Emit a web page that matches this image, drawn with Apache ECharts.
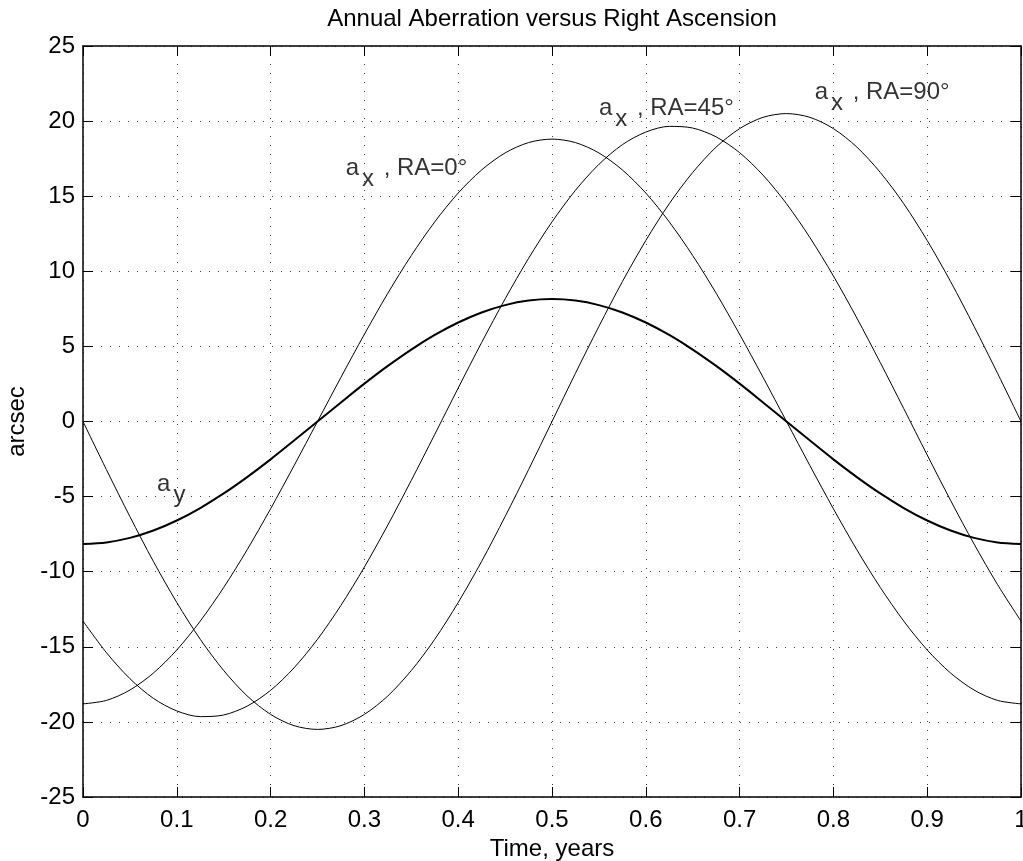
<!DOCTYPE html>
<html>
<head>
<meta charset="utf-8">
<title>Annual Aberration versus Right Ascension</title>
<script src="https://cdn.jsdelivr.net/npm/echarts/dist/echarts.min.js"></script>
<style>
  html, body { margin: 0; padding: 0; background: #fff; }
  #chart-main { width: 1023px; height: 861px; }
</style>
</head>
<body>
<div id="chart-main"></div>
<script>
var times = [0, 0.025, 0.05, 0.075, 0.1, 0.125, 0.15, 0.175, 0.2, 0.225, 0.25,
  0.275, 0.3, 0.325, 0.35, 0.375, 0.4, 0.425, 0.45, 0.475, 0.5,
  0.525, 0.55, 0.575, 0.6, 0.625, 0.65, 0.675, 0.7, 0.725, 0.75,
  0.775, 0.8, 0.825, 0.85, 0.875, 0.9, 0.925, 0.95, 0.975, 1];

// a_y (same for all RA, drawn heavy)
var ay = [-8.15, -8.05, -7.75, -7.26, -6.59, -5.76, -4.79, -3.70, -2.52, -1.27, 0,
  1.27, 2.52, 3.70, 4.79, 5.76, 6.59, 7.26, 7.75, 8.05, 8.15,
  8.05, 7.75, 7.26, 6.59, 5.76, 4.79, 3.70, 2.52, 1.27, 0,
  -1.27, -2.52, -3.70, -4.79, -5.76, -6.59, -7.26, -7.75, -8.05, -8.15];

// a_x, RA=0
var ax0 = [-18.80, -18.57, -17.88, -16.75, -15.21, -13.29, -11.05, -8.54, -5.81, -2.94, 0,
  2.94, 5.81, 8.54, 11.05, 13.29, 15.21, 16.75, 17.88, 18.57, 18.80,
  18.57, 17.88, 16.75, 15.21, 13.29, 11.05, 8.54, 5.81, 2.94, 0,
  -2.94, -5.81, -8.54, -11.05, -13.29, -15.21, -16.75, -17.88, -18.57, -18.80];

// a_x, RA=45
var ax45 = [-13.29, -15.39, -17.12, -18.43, -19.27, -19.65, -19.54, -18.95, -17.90, -16.40, -14.50,
  -12.24, -9.69, -6.89, -3.92, -0.86, 2.23, 5.26, 8.16, 10.86, 13.29,
  15.39, 17.12, 18.43, 19.27, 19.65, 19.54, 18.95, 17.90, 16.40, 14.50,
  12.24, 9.69, 6.89, 3.92, 0.86, -2.23, -5.26, -8.16, -10.86, -13.29];

// a_x, RA=90
var ax90 = [0, -3.21, -6.33, -9.31, -12.05, -14.50, -16.58, -18.27, -19.50, -20.25, -20.50,
  -20.25, -19.50, -18.27, -16.58, -14.50, -12.05, -9.31, -6.33, -3.21, 0,
  3.21, 6.33, 9.31, 12.05, 14.50, 16.58, 18.27, 19.50, 20.25, 20.50,
  20.25, 19.50, 18.27, 16.58, 14.50, 12.05, 9.31, 6.33, 3.21, 0];

// curve annotations: text pieces and where they sit (data coords)
var noteSub = ['x', 'x', 'x', 'y'];
var noteText = [' , RA=0\u00b0', ' , RA=45\u00b0', ' , RA=90\u00b0', ''];
var noteT = [0.280, 0.550, 0.780, 0.079];
var noteV = [16.84, 20.84, 21.91, -4.16];

var FONT = '"Liberation Sans", Arial, Helvetica, sans-serif';

function pairs(xs, ys) {
  return xs.map(function (x, i) { return [x, ys[i]]; });
}

function curve(name, values, width) {
  return {
    name: name,
    type: 'line',
    data: pairs(times, values),
    showSymbol: false,
    smooth: 0.3,
    lineStyle: { color: '#000', width: width },
    z: 3
  };
}

var notes = noteT.map(function (t, i) {
  var txt = '{a|a}{s|' + noteSub[i] + '}';
  if (noteText[i]) txt += '{t|' + noteText[i] + '}';
  return { value: [t, noteV[i]], label: { formatter: txt } };
});

var gridLine = { show: true, lineStyle: { color: '#444', width: 1, type: [1, 8] } };
var tick = { show: true, inside: true, length: 10, lineStyle: { color: '#000', width: 1 } };
var line = { show: true, onZero: false, lineStyle: { color: '#000', width: 1.5 } };
var noteFont = { fontSize: 24, color: '#000', fontFamily: FONT, textBorderWidth: 0 };

var myChart = echarts.init(document.getElementById('chart-main'));

var option = {
  animation: false,
  backgroundColor: '#fff',
  textStyle: { fontFamily: FONT },
  grid: { left: 83, right: 2, top: 46, bottom: 64, containLabel: false, outerBoundsMode: 'none' },
  xAxis: [
    {
      type: 'value', min: 0, max: 1, interval: 0.1,
      name: 'Time, years', nameLocation: 'middle', nameGap: 36,
      nameTextStyle: { fontSize: 24, color: '#000', fontFamily: FONT },
      axisLine: line, axisTick: tick, splitLine: gridLine,
      axisLabel: {
        fontSize: 24, color: '#000', margin: 11, fontFamily: FONT,
        formatter: function (v) { return String(Math.round(v * 10) / 10); }
      }
    },
    {
      type: 'value', min: 0, max: 1, interval: 0.1, position: 'top',
      name: 'Annual Aberration versus Right Ascension', nameLocation: 'middle', nameGap: 15,
      nameTextStyle: { fontSize: 24, color: '#000', fontFamily: FONT },
      axisLine: line, axisTick: tick, splitLine: { show: false },
      axisLabel: { show: false }
    }
  ],
  yAxis: [
    {
      type: 'value', min: -25, max: 25, interval: 5,
      name: 'arcsec', nameLocation: 'middle', nameGap: 54,
      nameTextStyle: { fontSize: 24, color: '#000', fontFamily: FONT },
      axisLine: line, axisTick: tick, splitLine: gridLine,
      axisLabel: { fontSize: 24, color: '#000', margin: 8, fontFamily: FONT }
    },
    {
      type: 'value', min: -25, max: 25, interval: 5, position: 'right',
      axisLine: line, axisTick: tick, splitLine: { show: false },
      axisLabel: { show: false }
    }
  ],
  series: [
    curve('a_y', ay, 2),
    curve('a_x, RA=0', ax0, 1),
    curve('a_x, RA=45', ax45, 1),
    curve('a_x, RA=90', ax90, 1),
    {
      name: 'notes',
      type: 'scatter',
      data: notes,
      symbolSize: 0,
      silent: true,
      itemStyle: { color: '#000' },
      z: 5,
      label: {
        show: true,
        position: 'right',
        distance: 0,
        offset: [0, 11],
        color: '#000',
        fontSize: 24,
        fontFamily: FONT,
        textBorderWidth: 0,
        rich: {
          a: Object.assign({ verticalAlign: 'top' }, noteFont),
          s: Object.assign({ lineHeight: 46, verticalAlign: 'middle', padding: [0, 3, 0, 3] }, noteFont),
          t: Object.assign({ verticalAlign: 'top' }, noteFont)
        }
      }
    }
  ]
};

myChart.setOption(option);

window.addEventListener('resize', function () {
  myChart.resize();
});
</script>
</body>
</html>
